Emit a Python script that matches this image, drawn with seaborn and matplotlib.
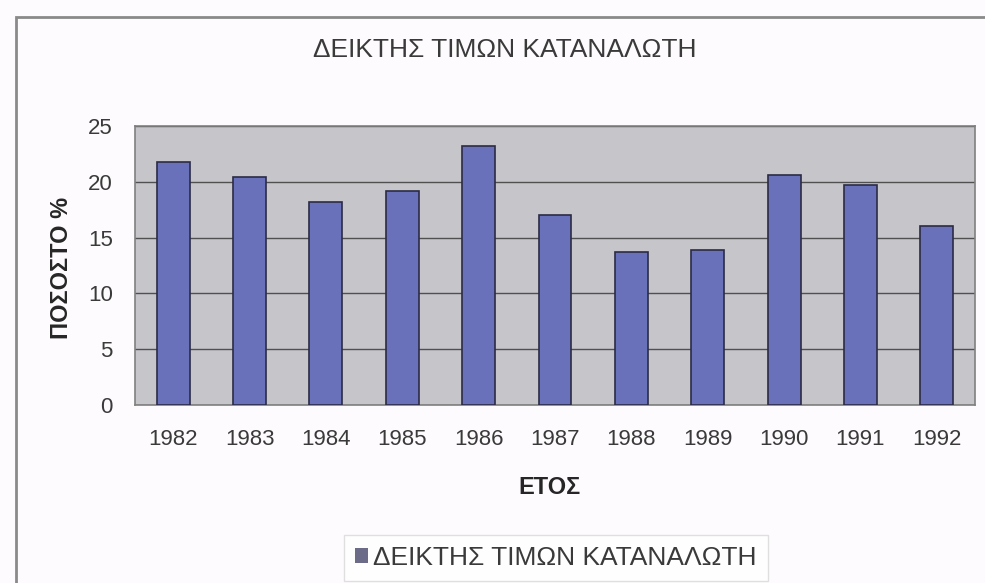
import matplotlib
matplotlib.use("Agg")
import matplotlib.pyplot as plt
import seaborn as sns
import pandas as pd
from matplotlib.patches import Rectangle, Patch

years = ["1982", "1983", "1984", "1985", "1986", "1987", "1988", "1989", "1990", "1991", "1992"]
values = [21.8, 20.4, 18.2, 19.2, 23.2, 17.0, 13.7, 13.9, 20.6, 19.7, 16.0]
y_ticks = [0, 5, 10, 15, 20, 25]
title = "ΔΕΙΚΤΗΣ ΤΙΜΩΝ ΚΑΤΑΝΑΛΩΤΗ"
series_name = "ΔΕΙΚΤΗΣ ΤΙΜΩΝ ΚΑΤΑΝΑΛΩΤΗ"
x_label = "ΕΤΟΣ"
y_label = "ΠΟΣΟΣΤΟ %"

df = pd.DataFrame({"year": years, "value": values})

sns.set_theme(style="white")
plt.rcParams["font.family"] = ["Liberation Sans", "DejaVu Sans"]

fig = plt.figure(figsize=(9.85, 5.83), dpi=100)
fig.patch.set_facecolor("#fdfbfd")

# outer chart frame
fig.add_artist(Rectangle((16 / 985, -0.01), 1.0, 1 - 17 / 583 + 0.01,
                         transform=fig.transFigure, fill=False,
                         edgecolor="#8a8a8a", linewidth=2.0))

ax_h = 405 - 126
ax_w = 975 - 135
ax = fig.add_axes([135 / 985, 1 - 405 / 583, ax_w / 985, ax_h / 583])
ax.set_facecolor("#c5c5ca")

bar_color = "#6a71bb"
sns.barplot(data=df, x="year", y="value", ax=ax, color=bar_color,
            width=0.43, edgecolor="#2b2b45", linewidth=1.2, saturation=1, zorder=3)

ax.set_ylim(0, 25)
ax.set_yticks(y_ticks)
ax.set_xlim(-0.5, len(years) - 0.5)
ax.yaxis.grid(True, color="#505050", linewidth=1.0, zorder=0)
ax.set_axisbelow(True)
for s in ax.spines.values():
    s.set_color("#808080")
    s.set_linewidth(1.2)

text_color = "#3a3a3a"
ax.tick_params(axis="both", length=0, labelsize=16, colors=text_color)
ax.tick_params(axis="x", pad=17)
ax.tick_params(axis="y", pad=16)
ax.set_xlabel(x_label, fontsize=17, fontweight="bold", color="#262626", va="center")
ax.xaxis.set_label_coords(0.5 + (550 - 555) / ax_w, -(487 - 405) / ax_h)
ax.set_ylabel(y_label, fontsize=17, fontweight="bold", color="#262626", va="center")
ax.yaxis.set_label_coords(-(135 - 62) / ax_w, 0.5 - (268 - 265.5) / ax_h)

fig.text(505 / 985, 1 - 50 / 583, title, ha="center", va="center",
         fontsize=19, color=text_color)

handle = Patch(facecolor="#6c6c88", edgecolor="none")
leg = fig.legend([handle], [series_name], loc="center",
                 bbox_to_anchor=(556 / 985, 1 - 558 / 583),
                 frameon=True, fontsize=19, handlelength=0.5, handleheight=0.5,
                 handletextpad=0.2, borderpad=0.4, fancybox=False)
leg.get_frame().set_edgecolor("#d8d8d8")
leg.get_frame().set_linewidth(1.0)
for t in leg.get_texts():
    t.set_color(text_color)

fig.savefig("out.png", dpi=100, facecolor=fig.get_facecolor())
